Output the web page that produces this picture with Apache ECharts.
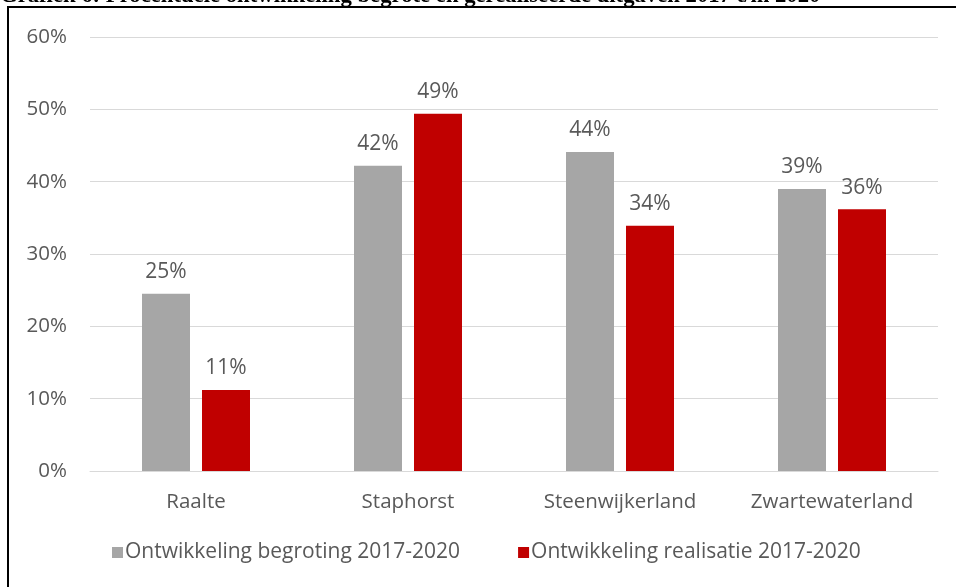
<!DOCTYPE html>
<html>
<head>
<meta charset="utf-8">
<script src="https://cdn.jsdelivr.net/npm/echarts@6/dist/echarts.min.js"></script>
<style>html,body{margin:0;padding:0;background:#fff;}#c{width:956px;height:587px;}</style>
</head>
<body>
<div id="c"></div>
<script>
const categories = ['Raalte', 'Staphorst', 'Steenwijkerland', 'Zwartewaterland'];
const begroting = [24.5, 42.2, 44.1, 39.0];
const realisatie = [11.2, 49.4, 33.9, 36.2];
const seriesNames = ['Ontwikkeling begroting 2017-2020', 'Ontwikkeling realisatie 2017-2020'];
const titleText = 'Grafiek 6: Procentuele ontwikkeling begrote en gerealiseerde uitgaven 2017 t/m 2020';

const chart = echarts.init(document.getElementById('c'));
const font = '"Open Sans", sans-serif';
const txt = '#595959';
const fs = 20.5;
const lbl = {show: true, position: 'top', distance: 11, color: txt, fontSize: 21, fontFamily: font,
  formatter: p => Math.round(p.value) + '%'};
chart.setOption({
  animation: false,
  backgroundColor: '#fff',
  graphic: [
    {type: 'rect', shape: {x: 8, y: 7, width: 1200, height: 1200}, style: {fill: 'none', stroke: '#000', lineWidth: 2}, z: 1},
    {type: 'text', x: 0, y: 8, style: {text: titleText, font: 'bold 22.7px "Liberation Serif", serif', fill: '#000', verticalAlign: 'bottom'}, z: 10}
  ],
  grid: {left: 90, right: 18, top: 37, bottom: 116},
  legend: {
    bottom: 19, left: 107, itemWidth: 11, itemHeight: 11, itemGap: 58, icon: 'rect',
    textStyle: {fontSize: 21, color: txt, fontFamily: font, padding: [0, 0, 0, -3]},
    data: seriesNames
  },
  xAxis: {
    type: 'category', data: categories,
    axisLine: {lineStyle: {color: '#d9d9d9'}}, axisTick: {show: false},
    axisLabel: {interval: 0, fontSize: fs, color: txt, fontFamily: font, margin: 21}
  },
  yAxis: {
    type: 'value', min: 0, max: 60, interval: 10,
    axisLabel: {formatter: '{value}%', fontSize: fs, color: txt, fontFamily: font, margin: 23},
    splitLine: {lineStyle: {color: '#d9d9d9'}}
  },
  series: [
    {name: seriesNames[0], type: 'bar', data: begroting, barWidth: 48, barGap: '25%', itemStyle: {color: '#a6a6a6'}, label: lbl},
    {name: seriesNames[1], type: 'bar', data: realisatie, barWidth: 48, itemStyle: {color: '#c00000'}, label: lbl}
  ]
});
</script>
</body>
</html>
